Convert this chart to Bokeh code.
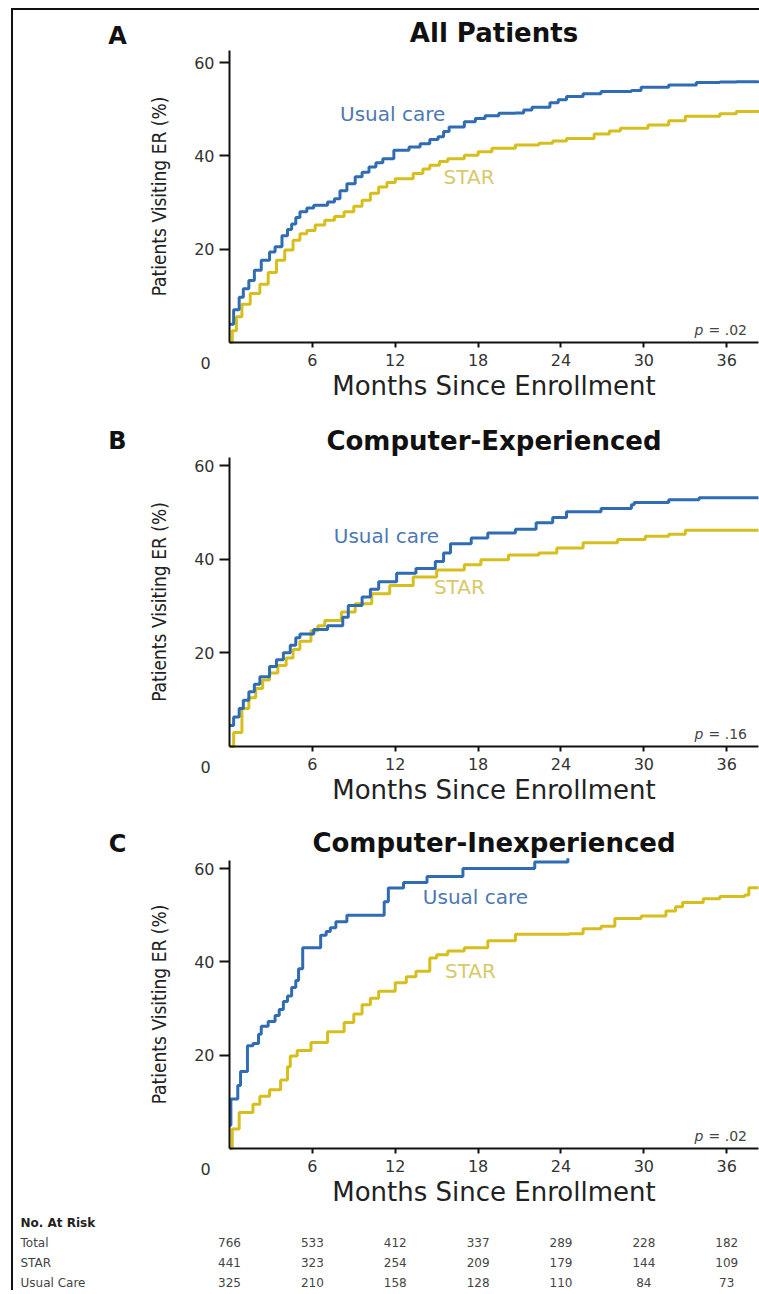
from bokeh.plotting import figure
from bokeh.layouts import column
from bokeh.models import Range1d, Label, FixedTicker
from bokeh.embed import file_html
from bokeh.resources import INLINE
from bokeh.core.properties import value

# ---------------- data ----------------
month_ticks = [6, 12, 18, 24, 30, 36]
pct_ticks = [20, 40, 60]

# Panel A - All Patients
a_usual_t = [0, 0.3, 0.7, 1.0, 1.4, 1.8, 2.3, 2.9, 3.3, 3.8, 4.2, 4.5, 4.8, 5.1, 5.6, 6.1, 7.1, 7.6, 8.0, 8.5,
             9.1, 9.6, 10.1, 10.6, 11.1, 11.9, 13.0, 13.8, 14.5, 15.1, 15.5, 15.9, 17.0, 17.8, 18.5, 19.5,
             20.7, 21.3, 21.9, 23.2, 23.8, 24.4, 25.6, 26.9, 29.1, 29.8, 31.8, 33.8, 35.5, 36.7, 38.3]
a_usual_v = [3.9, 7.0, 9.7, 11.5, 13.3, 15.5, 17.6, 19.4, 20.5, 22.9, 24.2, 25.4, 26.8, 28.0, 28.8, 29.4, 30.1, 30.8, 32.5, 34.0,
             35.5, 36.5, 37.6, 38.5, 39.4, 41.2, 41.9, 42.6, 43.5, 44.1, 45.2, 46.2, 47.3, 48.0, 48.6, 49.1,
             49.2, 49.8, 50.4, 51.4, 52.0, 52.7, 53.3, 53.8, 54.0, 54.7, 55.2, 55.7, 55.8, 55.9, 56.1]
a_star_t = [0, 0.2, 0.5, 0.9, 1.5, 2.2, 2.8, 3.4, 4.0, 4.6, 5.1, 5.6, 6.2, 6.9, 7.6, 8.3, 9.0, 9.6, 10.2, 10.8,
            11.4, 12.0, 13.3, 14.0, 14.5, 15.2, 15.8, 17.0, 18.0, 19.0, 20.7, 22.4, 23.4, 24.4, 26.4, 27.5,
            28.3, 30.3, 31.8, 33.0, 35.5, 36.7, 38.3]
a_star_v = [0, 2.5, 5.5, 8.2, 10.5, 12.5, 15.0, 17.6, 19.8, 21.9, 23.3, 24.0, 25.2, 26.2, 27.0, 28.0, 29.2, 30.5, 32.0, 33.3,
            34.3, 35.1, 36.2, 37.2, 38.0, 38.8, 39.4, 40.1, 40.9, 41.6, 42.3, 42.7, 43.2, 43.7, 44.7, 45.3,
            45.9, 46.6, 47.5, 48.5, 49.0, 49.5, 49.8]

# Panel B - Computer-Experienced
b_usual_t = [0, 0.3, 0.7, 1.0, 1.4, 1.8, 2.2, 2.9, 3.4, 3.9, 4.4, 4.8, 5.1, 6.1, 7.1, 7.85, 8.2, 8.6, 9.6, 10.2,
             10.8, 12.1, 13.5, 14.9, 15.5, 16.0, 17.5, 18.7, 20.7, 22.2, 23.4, 24.4, 26.9, 29.1, 29.3, 31.8,
             34.0, 38.3]
b_usual_v = [4.5, 6.3, 8.1, 9.9, 11.7, 13.3, 14.9, 17.1, 18.5, 20.0, 21.6, 23.2, 24.0, 25.0, 25.8, 25.8, 27.6, 30.1, 31.9, 33.6,
             35.2, 37.0, 38.0, 39.5, 41.3, 43.3, 44.5, 45.6, 46.4, 47.8, 48.9, 50.1, 50.8, 51.6, 52.1, 52.7,
             53.1, 53.1]
b_star_t = [0, 0.3, 0.9, 1.4, 1.9, 2.4, 2.9, 3.5, 4.1, 4.6, 5.1, 5.9, 6.4, 6.9, 8.1, 9.1, 10.3, 11.6, 13.3, 15.0,
            17.0, 18.2, 20.2, 22.4, 23.7, 25.6, 28.1, 30.1, 31.8, 33.0, 38.3]
b_star_v = [0, 3.0, 8.1, 10.4, 12.4, 14.2, 15.7, 17.3, 18.9, 20.7, 22.5, 24.7, 25.8, 26.9, 28.7, 30.5, 32.6, 34.4, 36.2, 37.7,
            38.8, 39.9, 40.9, 41.3, 42.4, 43.5, 44.2, 44.9, 45.3, 46.2, 46.2]

# Panel C - Computer-Inexperienced
c_usual_t = [0, 0.1, 0.6, 0.8, 1.3, 1.7, 2.1, 2.3, 2.8, 3.3, 3.6, 3.9, 4.2, 4.5, 4.8, 5.0, 5.3, 6.6, 7.0, 7.3,
             7.7, 8.5, 11.2, 11.5, 12.6, 14.3, 16.9, 22.1, 24.5]
c_usual_v = [5.0, 10.6, 13.5, 16.5, 22.0, 22.5, 24.5, 26.2, 27.2, 28.5, 29.8, 31.5, 32.7, 34.5, 36.0, 38.5, 43.0, 45.7, 46.5, 47.3,
             48.6, 50.0, 52.9, 55.8, 57.0, 58.3, 60.0, 61.4, 62.2]
c_star_t = [0, 0.2, 0.7, 1.7, 2.2, 2.9, 3.7, 4.2, 4.4, 4.9, 5.9, 7.1, 8.3, 9.0, 9.6, 10.2, 10.8, 12.0, 12.8, 13.5,
            14.5, 15.0, 15.8, 17.0, 18.7, 20.7, 24.6, 25.6, 26.9, 27.9, 29.8, 31.6, 32.3, 32.8, 34.3, 35.5,
            37.3, 37.6, 38.3]
c_star_v = [0, 4.2, 7.7, 9.5, 11.2, 12.6, 14.7, 17.5, 19.8, 21.0, 22.7, 25.0, 27.0, 28.8, 30.8, 32.2, 33.7, 35.5, 36.8, 38.0,
            40.8, 41.5, 42.3, 43.0, 44.5, 45.9, 46.0, 47.1, 47.6, 49.3, 49.8, 50.9, 51.8, 52.7, 53.5, 54.0,
            54.3, 55.9, 55.9]

# Number at risk table
risk_months = [0, 6, 12, 18, 24, 30, 36]
risk_rows = ["Total", "STAR", "Usual Care"]
risk_total = [766, 533, 412, 337, 289, 228, 182]
risk_star = [441, 323, 254, 209, 179, 144, 109]
risk_usual = [325, 210, 158, 128, 110, 84, 73]

# ---------------- style / layout ----------------
W = 746            # canvas width of each figure
LEFT = 216         # pixels from canvas left to the y axis
XMAX = 38.3        # end of the x axis (months)
PPM = (W - 1 - LEFT) / XMAX   # pixels per month
BLUE = "#2f6cb4"
GOLD = "#d6be1c"
BLUE_TXT = "#4d78b4"
GOLD_TXT = "#d8c968"
WIDE = "DejaVu Sans"
NARROW = "DejaVu Sans Condensed"


def panel(letter, title, ut, uv, st, sv, height, zero_off, ppp, ytop,
          ulab, slab, pval, title_up, letter_up):
    p = figure(width=W, height=height,
               x_range=Range1d(-LEFT / PPM, (W - LEFT) / PPM),
               y_range=Range1d(-(height - zero_off) / ppp, zero_off / ppp),
               output_backend="svg", toolbar_location=None, min_border=0)
    p.outline_line_color = None
    p.grid.visible = False
    p.background_fill_color = "white"
    p.border_fill_color = "white"

    p.step(st, sv, mode="after", line_color=GOLD, line_width=3)
    p.step(ut, uv, mode="after", line_color=BLUE, line_width=3)

    for ax in (p.xaxis[0], p.yaxis[0]):
        ax.fixed_location = 0
        ax.axis_line_color = "#111111"
        ax.axis_line_width = 2
        ax.major_tick_line_color = "#111111"
        ax.major_tick_line_width = 2
        ax.major_tick_in = 0
        ax.minor_tick_line_color = None
        ax.major_label_text_font = WIDE
        ax.major_label_text_font_size = "16px"
        ax.major_label_text_color = "#333333"
    p.xaxis.bounds = (0, XMAX)
    p.yaxis.bounds = (0, ytop)
    p.xaxis.ticker = FixedTicker(ticks=month_ticks)
    p.yaxis.ticker = FixedTicker(ticks=pct_ticks)
    p.xaxis.major_tick_out = 5
    p.xaxis.major_label_standoff = 6
    p.yaxis.major_tick_out = 10
    p.yaxis.major_label_standoff = 5

    p.xaxis.axis_label = "Months Since Enrollment"
    p.xaxis.axis_label_text_font = WIDE
    p.xaxis.axis_label_text_font_style = "normal"
    p.xaxis.axis_label_text_font_size = "26px"
    p.xaxis.axis_label_text_color = "#222222"
    p.xaxis.axis_label_standoff = 2

    p.yaxis.axis_label = "Patients Visiting ER (%)"
    p.yaxis.axis_label_text_font = NARROW
    p.yaxis.axis_label_text_font_style = "normal"
    p.yaxis.axis_label_text_font_size = "19px"
    p.yaxis.axis_label_text_color = "#222222"
    p.yaxis.axis_label_standoff = 21

    # shared origin label
    p.add_layout(Label(x=0, y=0, x_offset=-24, y_offset=-20, text="0", text_align="center",
                       text_baseline="middle", text_font=WIDE, text_font_size="16px",
                       text_color="#333333"))
    # panel letter and title
    p.add_layout(Label(x=0, y=ytop, x_offset=-112, y_offset=letter_up, text=letter, text_align="center",
                       text_baseline="middle", text_font=WIDE, text_font_style="bold",
                       text_font_size="24px", text_color="#111111"))
    p.add_layout(Label(x=XMAX / 2, y=ytop, y_offset=title_up, text=title, text_align="center",
                       text_baseline="middle", text_font=WIDE, text_font_style="bold",
                       text_font_size="26px", text_color="#111111"))
    # curve labels
    p.add_layout(Label(x=ulab[0], y=ulab[1], text="Usual care", text_align="left", text_baseline="middle",
                       text_font=WIDE, text_font_size="20px", text_color=BLUE_TXT))
    p.add_layout(Label(x=slab[0], y=slab[1], text="STAR", text_align="left", text_baseline="middle",
                       text_font=WIDE, text_font_size="20px", text_color=GOLD_TXT))
    # p value
    p.add_layout(Label(x=XMAX, y=0, x_offset=-64, y_offset=13, text="p", text_align="left",
                       text_baseline="middle", text_font=WIDE, text_font_style="italic",
                       text_font_size="14px", text_color="#444444"))
    p.add_layout(Label(x=XMAX, y=0, x_offset=-50, y_offset=13, text=pval, text_align="left",
                       text_baseline="middle", text_font=WIDE,
                       text_font_size="14px", text_color="#444444"))
    return p


pA = panel("A", "All Patients", a_usual_t, a_usual_v, a_star_t, a_star_v,
           400, 332, 280 / 60, 62.57, (8.0, 49.0), (15.5, 35.4), "= .02", 18, 15)
pB = panel("B", "Computer-Experienced", b_usual_t, b_usual_v, b_star_t, b_star_v,
           400, 336, 281 / 60, 61.7, (7.55, 45.0), (14.8, 34.0), "= .16", 17, 17)
pC = panel("C", "Computer-Inexperienced", c_usual_t, c_usual_v, c_star_t, c_star_v,
           396, 338, 280 / 60, 61.7, (14.0, 54.0), (15.6, 38.1), "= .02", 18, 17)

# table of numbers at risk (rows 0..3, 20 px apart, first row 16 px below the top)
TH = 84
tbl = figure(width=W, height=TH, x_range=Range1d(-LEFT / PPM, (W - LEFT) / PPM),
             y_range=Range1d((TH - 16) / 20.0, -16 / 20.0), output_backend="svg",
             toolbar_location=None, min_border=0)
tbl.axis.visible = False
tbl.grid.visible = False
tbl.outline_line_color = None
tbl.background_fill_color = "white"
tbl.border_fill_color = "white"

label_x = -(LEFT - 7) / PPM
tbl.text(x=[label_x], y=[0], text=["No. At Risk"], text_align="left", text_baseline="middle",
         text_font=value(WIDE), text_font_style="bold", text_font_size="12px", text_color="#222222")
tbl.text(x=[label_x] * 3, y=[1, 2, 3], text=risk_rows, text_align="left", text_baseline="middle",
         text_font=value(WIDE), text_font_size="12px", text_color="#444444")
xs, ys, ts = [], [], []
for r, vals in enumerate([risk_total, risk_star, risk_usual], start=1):
    for m, v in zip(risk_months, vals):
        xs.append(m)
        ys.append(r)
        ts.append(str(v))
tbl.text(x=xs, y=ys, text=ts, text_align="center", text_baseline="middle",
         text_font=value(WIDE), text_font_size="12px", text_color="#444444")

layout = column(pA, pB, pC, tbl, spacing=0,
                styles={"box-sizing": "content-box", "overflow": "visible",
                        "border-top": "2px solid #111", "border-left": "2px solid #111",
                        "margin-left": "11px", "margin-top": "8px"})

open("out.html", "w").write(file_html(layout, INLINE))
